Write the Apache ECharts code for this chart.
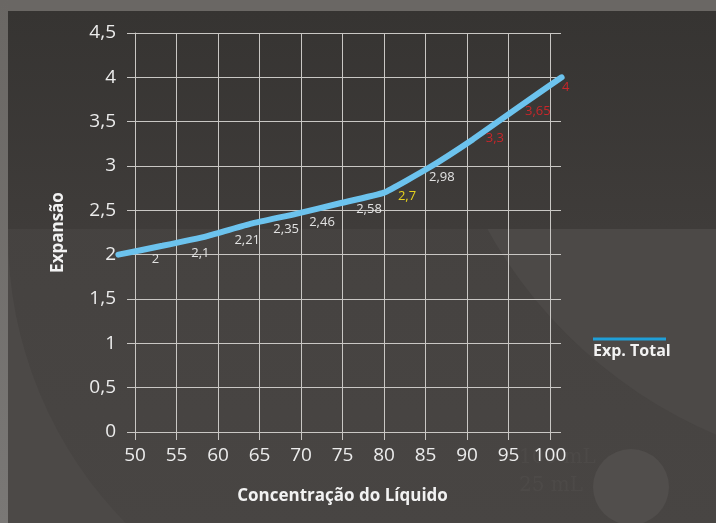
<!DOCTYPE html>
<html>
<head>
<meta charset="utf-8">
<script src="https://cdn.jsdelivr.net/npm/echarts@6/dist/echarts.min.js"></script>
<style>
html,body{margin:0;padding:0;width:716px;height:523px;overflow:hidden;background:#6a6764;}
#chart{position:absolute;left:0;top:0;width:716px;height:523px;}
</style>
</head>
<body>
<div id="chart"></div>
<script>
// Data
const concentration = [48, 53.3, 58.7, 64, 69.4, 74.7, 80, 85.4, 90.7, 96, 101.4];
const expansion = [2, 2.1, 2.21, 2.35, 2.46, 2.58, 2.7, 2.98, 3.3, 3.65, 4];
const valueLabels = ['2', '2,1', '2,21', '2,35', '2,46', '2,58', '2,7', '2,98', '3,3', '3,65', '4'];
const xTicks = [50, 55, 60, 65, 70, 75, 80, 85, 90, 95, 100];
const yTicks = [0, 0.5, 1, 1.5, 2, 2.5, 3, 3.5, 4, 4.5];
const seriesName = 'Exp. Total';
const xName = 'Concentração do Líquido';
const yName = 'Expansão';

// Styling (label placement and colours)
const labelColors = ['#e2e2e2','#e2e2e2','#e2e2e2','#e2e2e2','#e2e2e2','#e2e2e2','#e6d21e','#e2e2e2','#c8262a','#c8262a','#c8262a'];
const labelOffsets = [[37,5],[38,7],[40,4],[35,6],[26,8],[29,6],[23,4],[13,10],[22,-1],[21,3],[4,10]];

const fmt = v => String(v).replace('.', ',');
const gridColor = '#c9c7c4';
const font = '"Open Sans", "DejaVu Sans", sans-serif';

// visible axes grid: 50..100 mapped to x 135..550; series grid spans 47..102 with same scale
const pxPerUnit = 415 / 50;
const sMin = 47, sMax = 102;
const sLeft = 135 - (xTicks[0] - sMin) * pxPerUnit;
const sRight = 716 - (550 + (sMax - xTicks[xTicks.length - 1]) * pxPerUnit);

const chart = echarts.init(document.getElementById('chart'), null, {renderer: 'canvas'});
chart.setOption({
  animation: false,
  textStyle: {fontFamily: font},
  grid: [
    {left: 135, right: 166, top: 33, bottom: 91, containLabel: false},
    {left: sLeft, right: sRight, top: 33, bottom: 91, containLabel: false}
  ],
  graphic: [
    // panel background
    {type: 'rect', shape: {x: 8, y: 11, width: 708, height: 512}, style: {fill: '#4c4947'}, silent: true, z: -20},
    {type: 'circle', shape: {cx: 420, cy: 235, r: 412}, style: {fill: {type: 'linear', x: 0, y: 0, x2: 0, y2: 1, colorStops: [{offset: 0, color: '#423f3d'}, {offset: 1, color: '#494644'}]}}, silent: true, z: -19},
    {type: 'circle', shape: {cx: 900, cy: 0, r: 472}, style: {fill: '#4c4947'}, silent: true, z: -18},
    {type: 'circle', shape: {cx: 631, cy: 487, r: 38}, style: {fill: '#514e4c'}, silent: true, z: -18},
    {type: 'rect', shape: {x: 8, y: 11, width: 708, height: 218}, style: {fill: {type: 'linear', x: 0, y: 0, x2: 0, y2: 1, colorStops: [{offset: 0, color: '#363432'}, {offset: 1, color: '#3f3c3a'}]}}, silent: true, z: -17},
    {type: 'text', left: 519, top: 448, style: {text: '100 mL', fill: 'rgba(255,255,255,0.03)', font: '20px "DejaVu Serif", serif'}, silent: true, z: -16},
    {type: 'text', left: 519, top: 476, style: {text: '25 mL', fill: 'rgba(255,255,255,0.03)', font: '20px "DejaVu Serif", serif'}, silent: true, z: -16},
    // outer frame
    {type: 'rect', shape: {x: 0, y: 0, width: 716, height: 11}, style: {fill: '#6a6764'}, silent: true, z: -15},
    {type: 'rect', shape: {x: 0, y: 0, width: 8, height: 523}, style: {fill: {type: 'linear', x: 0, y: 0, x2: 0, y2: 1, colorStops: [{offset: 0, color: '#6a6764'}, {offset: 1, color: '#7a7876'}]}}, silent: true, z: -15},
    // legend
    {type: 'line', shape: {x1: 593, y1: 339, x2: 666, y2: 339}, style: {stroke: '#1f9fd8', lineWidth: 3}, silent: true},
    {type: 'text', left: 593, top: 343, style: {text: seriesName, fill: '#f2f2f2', font: 'bold 16px ' + font}, silent: true}
  ],
  xAxis: [{
    gridIndex: 0,
    type: 'value', min: xTicks[0], max: xTicks[xTicks.length - 1], interval: 5,
    name: xName, nameLocation: 'middle', nameGap: 56,
    nameTextStyle: {color: '#f2f2f2', fontSize: 17, fontWeight: 'bold'},
    axisLine: {show: true, lineStyle: {color: gridColor, width: 1}},
    axisTick: {show: true, inside: false, length: 8, lineStyle: {color: gridColor}},
    axisLabel: {color: '#ececec', fontSize: 19, margin: 14, formatter: v => fmt(v)},
    splitLine: {show: true, lineStyle: {color: gridColor, width: 1}}
  }, {
    gridIndex: 1, type: 'value', min: sMin, max: sMax, show: false
  }],
  yAxis: [{
    gridIndex: 0,
    type: 'value', min: yTicks[0], max: yTicks[yTicks.length - 1], interval: 0.5,
    name: yName, nameLocation: 'middle', nameGap: 68, nameRotate: 90,
    nameTextStyle: {color: '#f2f2f2', fontSize: 17, fontWeight: 'bold'},
    axisLine: {show: true, lineStyle: {color: gridColor, width: 1}},
    axisTick: {show: true, inside: false, length: 8, lineStyle: {color: gridColor}},
    axisLabel: {color: '#ececec', fontSize: 19, margin: 19, formatter: v => fmt(v)},
    splitLine: {show: true, lineStyle: {color: gridColor, width: 1}}
  }, {
    gridIndex: 0,
    type: 'value', min: yTicks[0], max: yTicks[yTicks.length - 1], interval: 0.5, position: 'right',
    axisLine: {show: false},
    axisTick: {show: true, inside: false, length: 11, lineStyle: {color: gridColor}},
    axisLabel: {show: false},
    splitLine: {show: false}
  }, {
    gridIndex: 1, type: 'value', min: yTicks[0], max: yTicks[yTicks.length - 1], show: false
  }],
  series: [{
    name: seriesName,
    type: 'line',
    xAxisIndex: 1,
    yAxisIndex: 2,
    clip: false,
    smooth: 0.12,
    symbol: 'circle',
    symbolSize: 1,
    itemStyle: {color: 'rgba(0,0,0,0)'},
    lineStyle: {color: '#6cc3ee', width: 6, cap: 'round'},
    data: concentration.map((x, i) => ({
      value: [x, expansion[i]],
      label: {
        show: true,
        position: 'inside',
        offset: labelOffsets[i],
        formatter: valueLabels[i],
        color: labelColors[i],
        fontSize: 13,
        fontFamily: font
      }
    }))
  }]
});
</script>
</body>
</html>
